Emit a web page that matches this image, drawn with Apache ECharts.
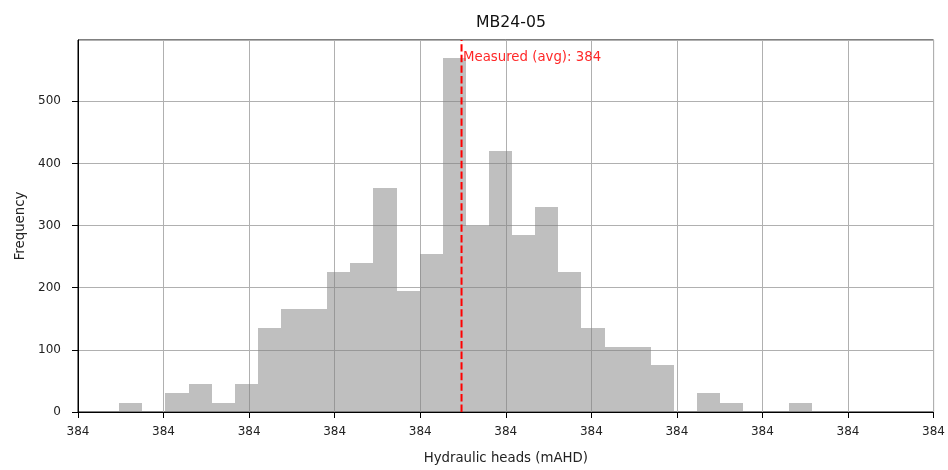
<!DOCTYPE html>
<html>
<head>
<meta charset="utf-8">
<script src="https://cdn.jsdelivr.net/npm/echarts@6/dist/echarts.min.js"></script>
<style>html,body{margin:0;padding:0;background:#fff}#c{width:948px;height:470px}</style>
</head>
<body>
<div id="c"></div>
<script>
const chartTitle = 'MB24-05';
const xAxisName = 'Hydraulic heads (mAHD)';
const yAxisName = 'Frequency';
const xTickLabels = ['384','384','384','384','384','384','384','384','384','384','384'];
const binStart = 0.482;
const binWidth = 0.2701;
const counts = [15,0,30,45,15,45,135,165,165,225,240,360,195,255,570,300,420,285,330,225,135,105,105,75,0,30,15,0,0,15];
const measuredX = 4.483;
const measuredLabel = 'Measured (avg): 384';

const bins = counts.map((c, i) => [binStart + i * binWidth, binStart + (i + 1) * binWidth, c]);
const yMax = Math.max(...counts) * 1.05;
const FONT = 'DejaVu Sans';

const chart = echarts.init(document.getElementById('c'), null, {renderer: 'canvas'});
chart.setOption({
  animation: false,
  backgroundColor: '#fff',
  title: {
    text: chartTitle, left: 506, top: 10, textAlign: 'center',
    textStyle: {fontFamily: FONT, fontSize: 15.7, fontWeight: 'normal', color: '#111'}
  },
  grid: {left: 78, right: 14, top: 40, bottom: 57, show: true, borderColor: '#000', borderWidth: 1, backgroundColor: 'transparent'},
  xAxis: {
    type: 'value', min: 0, max: 10, interval: 1,
    name: xAxisName, nameLocation: 'middle', nameGap: 40,
    nameTextStyle: {fontFamily: FONT, fontSize: 13.3, color: '#222'},
    axisLine: {show: true, onZero: false, lineStyle: {color: '#000', width: 1}},
    axisTick: {show: true, length: 6, lineStyle: {color: '#000'}},
    axisLabel: {fontFamily: FONT, fontSize: 12, color: '#222', margin: 14,
      formatter: v => xTickLabels[Math.round(v)] || ''},
    splitLine: {show: true, lineStyle: {color: '#b0b0b0', width: 1}}
  },
  yAxis: {
    type: 'value', min: 0, max: yMax, interval: 100,
    name: yAxisName, nameLocation: 'middle', nameGap: 51,
    nameTextStyle: {fontFamily: FONT, fontSize: 13.3, color: '#222'},
    axisLine: {show: true, lineStyle: {color: '#000', width: 1}},
    axisTick: {show: true, length: 6, lineStyle: {color: '#000'}},
    axisLabel: {fontFamily: FONT, fontSize: 12, color: '#222', margin: 17,
      showMaxLabel: false,
      formatter: v => (v % 100 === 0 ? String(v) : '')},
    splitLine: {show: true, lineStyle: {color: '#b0b0b0', width: 1}}
  },
  series: [
    {
      type: 'custom',
      data: bins,
      encode: {x: [0, 1], y: 2},
      renderItem: function (params, api) {
        const c = api.value(2);
        if (!c) return null;
        const p0 = api.coord([api.value(0), c]);
        const p1 = api.coord([api.value(1), 0]);
        const x0 = Math.round(p0[0]), x1 = Math.round(p1[0]);
        const y0 = Math.round(p0[1]), y1 = Math.round(p1[1]);
        return {
          type: 'rect',
          shape: {x: x0, y: y0, width: x1 - x0, height: y1 - y0},
          style: {fill: 'rgba(128,128,128,0.5)', stroke: null}
        };
      },
      z: 2
    },
    {
      type: 'custom',
      data: [[measuredX, Math.max(...counts)]],
      encode: {x: 0, y: 1},
      renderItem: function (params, api) {
        const x = api.value(0);
        const pb = api.coord([x, 0]);
        const pt = api.coord([x, yMax]);
        const pl = api.coord([x, api.value(1)]);
        return {
          type: 'group',
          children: [
            {type: 'line', shape: {x1: pb[0], y1: pb[1], x2: pt[0], y2: pt[1]},
              style: {stroke: '#ff0000', lineWidth: 2, lineDash: [7.4, 3.2]}},
            {type: 'text', x: pl[0] + 1.5, y: pl[1],
              style: {text: measuredLabel, fill: '#ff2828', fontFamily: FONT, fontSize: 13.3,
                align: 'left', verticalAlign: 'middle'}}
          ]
        };
      },
      z: 5
    }
  ]
});
</script>
</body>
</html>
